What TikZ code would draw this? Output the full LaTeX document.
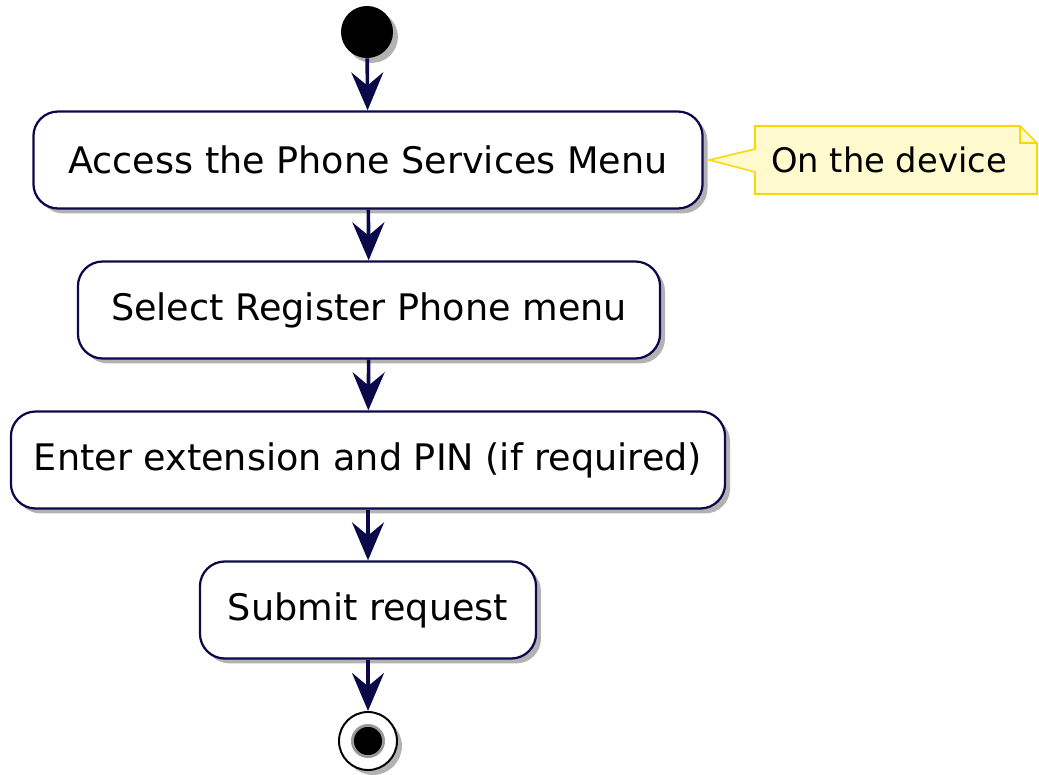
\documentclass[tikz,border=0pt]{standalone}
\usepackage{fontspec}
\setmainfont{DejaVu Sans}
\usetikzlibrary{arrows.meta,shadows}
\definecolor{umlnavy}{RGB}{10,10,75}
\definecolor{umlnote}{RGB}{255,250,205}
\definecolor{umlgold}{RGB}{255,215,0}

\begin{document}
\begin{tikzpicture}[
  x=0.025cm,y=-0.025cm,
  font=\fontsize{26}{30}\selectfont,
  shade/.style={drop shadow={shadow xshift=3.5pt,shadow yshift=-3.5pt,fill=black!55,opacity=.55}},
  act/.style={draw=umlnavy,line width=1.6pt,fill=white,rounded corners=0.62cm,minimum height=2.425cm,
    inner xsep=0.5cm,shade},
  arr/.style={-{Stealth[length=0.95cm,width=0.8cm,inset=0.33cm]},umlnavy,line width=2.6pt},
  notebox/.style={draw=umlgold,fill=umlnote,line width=1.1pt,line join=miter},
  notetext/.style={font=\fontsize{24}{28}\selectfont,inner sep=0pt}
]
  \useasboundingbox (0,0) rectangle (1039,775);
  \node[circle,fill=black,minimum size=1.3cm,inner sep=0pt,shade] (start) at (367,32) {};
  \node[act,minimum width=16.725cm] (a1) at (368,160) {Access the Phone Services Menu};
  \node[act,minimum width=14.55cm] (a2) at (369,310) {Select Register Phone menu};
  \node[act,minimum width=17.85cm] (a3) at (368,460) {Enter extension and PIN (if required)};
  \node[act,minimum width=8.4cm] (a4) at (368,610) {Submit request};
  \node[circle,draw=black,line width=1.4pt,fill=white,minimum size=1.45cm,inner sep=0pt,shade] (stop) at (368,741) {};
  \node[circle,fill=black,draw=gray!80,line width=2pt,minimum size=0.78cm,inner sep=0pt] (stopdot) at (stop) {};
  \draw[arr] (start) -- (a1);
  \draw[arr] (a1) -- (a2);
  \draw[arr] (a2) -- (a3);
  \draw[arr] (a3) -- (a4);
  \draw[arr] (a4) -- (stop);

  % note
  \draw[notebox] (755,126) -- (1020,126) -- (1037,143) -- (1037,194) -- (755,194) -- (755,172)
    -- ([xshift=4pt]a1.east) -- (755,149) -- cycle;
  \draw[notebox,fill=none] (1020,126) -- (1020,143) -- (1037,143);
  \node[notetext] (n1) at (889,160) {On the device};
\end{tikzpicture}
\end{document}
